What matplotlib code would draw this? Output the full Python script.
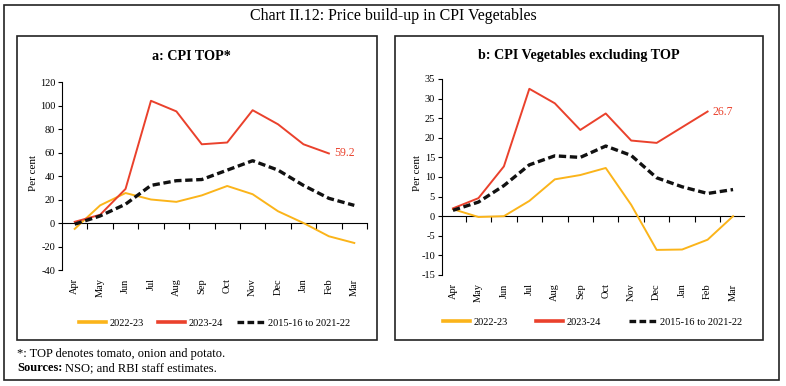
import matplotlib
matplotlib.use("Agg")
import matplotlib.pyplot as plt
from matplotlib.patches import Rectangle
from matplotlib.lines import Line2D
import numpy as np

plt.rcParams["font.family"] = ["Liberation Serif", "DejaVu Serif"]
plt.rcParams["axes.unicode_minus"] = False

months = ["Apr", "May", "Jun", "Jul", "Aug", "Sep", "Oct", "Nov", "Dec", "Jan", "Feb", "Mar"]
series_names = ["2022-23", "2023-24", "2015-16 to 2021-22"]

# panel a: CPI TOP
top_2022 = [-5, 15, 25.5, 20, 18, 23.5, 31.5, 24.5, 10, 0, -11.3, -17]
top_2023 = [1, 7, 29, 104, 95, 67, 68.5, 96, 84, 67, 59.2]
top_avg = [-1, 6, 16, 32, 36, 37, 45, 53, 45, 32, 21, 15]

# panel b: CPI Vegetables excluding TOP
ex_2022 = [1.8, -0.2, 0, 3.9, 9.4, 10.5, 12.3, 2.9, -8.6, -8.5, -6, 0]
ex_2023 = [2, 4.6, 12.7, 32.5, 28.8, 22, 26.2, 19.3, 18.7, 22.7, 26.7]
ex_avg = [1.5, 3.6, 7.8, 13.1, 15.4, 15, 17.9, 15.5, 9.8, 7.5, 5.8, 6.8]

ORANGE = "#FBB41A"
RED = "#EA412C"
FS = 7.5

fig = plt.figure(figsize=(7.86, 3.86), dpi=100)
W, H = 786, 386


def box(x0, y0, x1, y1, lw=1.2):
    fig.add_artist(Rectangle((x0 / W, 1 - y1 / H), (x1 - x0) / W, (y1 - y0) / H,
                             transform=fig.transFigure, fill=False,
                             edgecolor="#222222", linewidth=lw))


box(4, 5, 779, 380)
box(17, 36, 377, 340)
box(395, 36, 763, 340)

fig.text(393 / W, 1 - 16 / H, "Chart II.12: Price build-up in CPI Vegetables",
         ha="center", va="center", fontsize=11.5)


def panel(rect, title, title_x, v22, v23, vavg, ylim, ystep, xlim,
          legend_xy, colspacing, ylabel_x):
    ax = fig.add_axes(rect)
    x = np.arange(len(months))
    ax.plot(x, v22, color=ORANGE, lw=1.4, label=series_names[0])
    ax.plot(x[:len(v23)], v23, color=RED, lw=1.4, label=series_names[1])
    ax.plot(x, vavg, color="#111111", lw=2.4, ls=(0, (2.2, 1.1)), label=series_names[2])
    ax.text(x[len(v23) - 1] + 0.2, v23[-1], f"{v23[-1]:.1f}", color=RED,
            fontsize=8.5, ha="left", va="center")

    ax.set_xlim(*xlim)
    ax.set_ylim(*ylim)
    ax.set_yticks(np.arange(ylim[0], ylim[1] + 0.1, ystep))
    ax.tick_params(axis="y", labelsize=FS, length=3, width=0.8, pad=2)
    ax.set_xticks(x)
    ax.set_xticklabels(months, rotation=90, fontsize=FS)
    ax.tick_params(axis="x", length=0, pad=6)
    for s in ["top", "right", "bottom"]:
        ax.spines[s].set_visible(False)
    ax.spines["left"].set_linewidth(0.8)
    ax.set_facecolor("none")

    zero_pos = (0 - ylim[0]) / (ylim[1] - ylim[0])
    sec = ax.secondary_xaxis(zero_pos)
    sec.set_xticks(np.arange(0.5, len(months), 1))
    sec.set_xticklabels([])
    sec.tick_params(axis="x", direction="out", length=4, width=0.8)
    sec.spines["bottom"].set_linewidth(0.8)

    fig.text(ylabel_x / W, 1 - 173 / H, "Per cent", rotation=90, fontsize=8,
             ha="center", va="center")
    fig.text(title_x / W, 1 - 56 / H, title, ha="center", va="center",
             fontsize=10.2, fontweight="bold")

    handles = [Line2D([], [], color=ORANGE, lw=2.6),
               Line2D([], [], color=RED, lw=2.6),
               Line2D([], [], color="#111111", lw=2.4, ls=(0, (2.0, 1.0)))]
    fig.legend(handles, series_names, loc="center left",
               bbox_to_anchor=(legend_xy[0] / W, 1 - legend_xy[1] / H),
               ncol=3, frameon=False, fontsize=FS, handlelength=2.6,
               handletextpad=0.35, columnspacing=colspacing, borderpad=0,
               borderaxespad=0)
    return ax


panel([62 / W, 1 - 270 / H, 305 / W, 188 / H], "a: CPI TOP*", 191,
      top_2022, top_2023, top_avg, (-40, 120), 20, (-0.5, 11.5),
      (79, 323), 1.35, 33)
panel([442 / W, 1 - 275 / H, 302 / W, 196 / H], "b: CPI Vegetables excluding TOP", 579,
      ex_2022, ex_2023, ex_avg, (-15, 35), 5, (-0.43, 11.43),
      (443, 322), 2.7, 417)

fig.text(17 / W, 1 - 354 / H, "*: TOP denotes tomato, onion and potato.",
         fontsize=9, ha="left", va="center")
t = fig.text(17 / W, 1 - 368 / H, "Sources:", fontsize=9, fontweight="bold",
             ha="left", va="center")
fig.canvas.draw()
bb = t.get_window_extent()
fig.text((bb.x1 + 3) / W, 1 - 368 / H, "NSO; and RBI staff estimates.",
         fontsize=9, ha="left", va="center")

fig.savefig("out.png", dpi=100)
